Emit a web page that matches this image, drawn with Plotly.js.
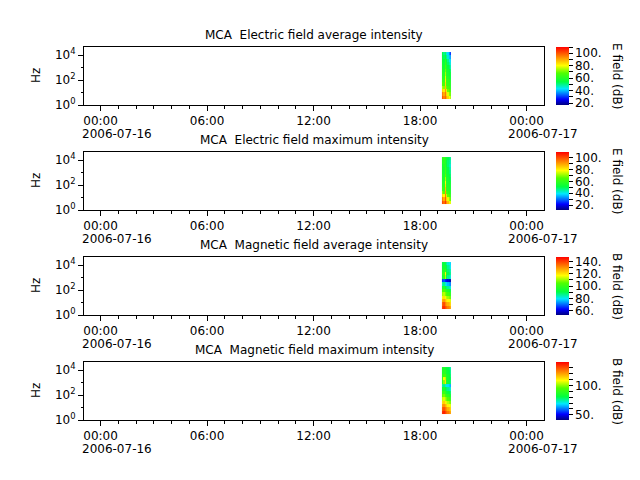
<!DOCTYPE html>
<html>
<head>
<meta charset="utf-8">
<script src="https://cdn.plot.ly/plotly-3.0.1.min.js"></script>
<style>
  html, body { margin: 0; padding: 0; background: #fff; }
  #chart { width: 640px; height: 480px; }
</style>
</head>
<body>
<div id="chart"></div>
<script>
// Time bin edges of the pass (UT)
const timeEdges = [
  '2006-07-16 19:14:00', '2006-07-16 19:18:30', '2006-07-16 19:23:00',
  '2006-07-16 19:27:30', '2006-07-16 19:32:00', '2006-07-16 19:36:30',
  '2006-07-16 19:41:00', '2006-07-16 19:45:00'
];
// Frequency bin edges (Hz)
const freqEdges = [3.0, 5.6, 10.3, 19.2, 35.6, 66, 123, 228, 423, 784, 1455, 2700, 5015, 9300, 17280];

// Spectral intensities (dB), rows = frequency bins (low -> high), columns = time bins
const eAvg = [
  [100, 95, 98, 90, 85, 80, 75],
  [95, 90, 96, 85, 78, 72, 70],
  [85, 82, 92, 78, 70, 68, 65],
  [75, 72, 88, 70, 66, 64, 62],
  [68, 66, 85, 66, 63, 62, 60],
  [64, 63, 82, 64, 62, 60, 58],
  [62, 61, 78, 62, 60, 58, 56],
  [60, 60, 74, 61, 58, 56, 55],
  [60, 58, 70, 60, 57, 55, 52],
  [58, 57, 66, 58, 55, 52, 48],
  [57, 56, 62, 57, 52, 48, 45],
  [56, 55, 60, 55, 50, 44, 42],
  [55, 52, 56, 50, 46, 40, 38],
  [54, 50, 52, 46, 42, 36, 30]
];
const eMax = [
  [100, 96, 102, 92, 86, 80, 76],
  [94, 88, 98, 84, 76, 70, 66],
  [82, 78, 94, 74, 66, 62, 60],
  [70, 66, 90, 66, 60, 58, 56],
  [62, 60, 86, 60, 57, 56, 55],
  [58, 58, 82, 58, 56, 55, 54],
  [57, 57, 78, 57, 55, 54, 52],
  [56, 56, 72, 56, 54, 52, 50],
  [56, 55, 66, 55, 53, 50, 48],
  [55, 55, 62, 54, 52, 48, 46],
  [55, 54, 60, 54, 50, 46, 44],
  [54, 56, 58, 52, 48, 44, 42],
  [56, 58, 56, 52, 48, 46, 44],
  [58, 60, 56, 54, 50, 48, 46]
];
const bAvg = [
  [140, 142, 138, 135, 132, 130, 128],
  [135, 138, 132, 128, 126, 124, 122],
  [126, 128, 124, 120, 118, 116, 114],
  [118, 120, 116, 112, 110, 108, 106],
  [110, 112, 108, 105, 102, 100, 98],
  [102, 104, 100, 97, 95, 93, 90],
  [94, 96, 92, 88, 86, 84, 82],
  [84, 86, 82, 78, 76, 74, 72],
  [66, 68, 64, 62, 60, 58, 56],
  [92, 98, 112, 90, 86, 84, 82],
  [96, 100, 118, 94, 90, 88, 86],
  [94, 96, 100, 92, 88, 86, 84],
  [92, 94, 94, 90, 86, 84, 80],
  [90, 92, 90, 86, 82, 80, 78]
];
const bMax = [
  [134, 136, 132, 128, 125, 122, 120],
  [128, 130, 126, 122, 118, 116, 114],
  [120, 122, 118, 114, 110, 108, 106],
  [112, 114, 110, 106, 103, 100, 98],
  [104, 106, 102, 98, 95, 92, 90],
  [96, 98, 94, 90, 88, 86, 84],
  [90, 91, 88, 84, 82, 80, 78],
  [84, 85, 82, 78, 76, 74, 72],
  [74, 76, 72, 70, 68, 66, 64],
  [88, 100, 112, 86, 82, 80, 78],
  [90, 108, 104, 88, 84, 82, 80],
  [88, 92, 94, 86, 84, 82, 78],
  [86, 88, 88, 84, 82, 80, 76],
  [85, 86, 84, 82, 80, 78, 74]
];

const panelTitles = [
  'MCA\u00a0 Electric field average intensity',
  'MCA\u00a0 Electric field maximum intensity',
  'MCA\u00a0 Magnetic field average intensity',
  'MCA\u00a0 Magnetic field maximum intensity'
];
const cbarTitles = ['E field (dB)', 'E field (dB)', 'B field (dB)', 'B field (dB)'];
const cbarRanges = [[17, 110], [12, 109], [53, 147], [41, 140]];
const cbarTickVals = [
  [20, 30, 40, 50, 60, 70, 80, 90, 100, 110],
  [20, 30, 40, 50, 60, 70, 80, 90, 100],
  [60, 70, 80, 90, 100, 110, 120, 130, 140],
  [50, 60, 70, 80, 90, 100, 110, 120, 130]
];
const cbarLabelled = [
  [20, 40, 60, 80, 100],
  [20, 40, 60, 80, 100],
  [60, 80, 100, 120, 140],
  [50, 100]
];
const dayLabels = ['2006-07-16', '2006-07-17'];
const dayTicks = ['2006-07-16 00:00', '2006-07-17 00:00'];
const freqTickVals = [1, 100, 10000];
const freqTickText = ['10<sup>0</sup>', '10<sup>2</sup>', '10<sup>4</sup>'];

const spectra = [eAvg, eMax, bAvg, bMax];

// Rainbow palette, dark blue -> red
const palette = [
  [0.00, '#000080'], [0.10, '#0000ff'], [0.28, '#00e8ff'], [0.40, '#00ff40'],
  [0.55, '#50ff00'], [0.68, '#ffff00'], [0.82, '#ff9000'], [1.00, '#ff0000']
];

const W = 640, H = 480;
const axLeft = 84, axRight = 544, axH = 58;
const axTops = [47, 152, 257, 362];
const px = v => v / W;
const py = v => 1 - v / H;

const data = [];
const layout = {
  width: W, height: H,
  margin: {l: 0, r: 0, t: 0, b: 0},
  paper_bgcolor: '#fff', plot_bgcolor: '#fff',
  showlegend: false,
  font: {family: 'DejaVu Sans', size: 12, color: '#000'},
  annotations: []
};

spectra.forEach((z, i) => {
  const sfx = i === 0 ? '' : String(i + 1);
  const top = axTops[i], bottom = top + axH, mid = top + axH / 2;

  data.push({
    type: 'heatmap',
    x: timeEdges, y: freqEdges, z: z,
    xaxis: 'x' + sfx, yaxis: 'y' + sfx,
    colorscale: palette,
    zmin: cbarRanges[i][0], zmax: cbarRanges[i][1],
    zsmooth: false, hoverinfo: 'skip',
    colorbar: {
      x: px(556), xanchor: 'left', xpad: 0,
      y: py(mid), yanchor: 'middle', ypad: 0,
      len: axH, lenmode: 'pixels',
      thickness: 13, thicknessmode: 'pixels',
      outlinewidth: 0,
      tickmode: 'array',
      tickvals: cbarTickVals[i],
      ticktext: cbarTickVals[i].map(v => cbarLabelled[i].includes(v) ? v + '.' : ''),
      ticks: 'outside', ticklen: 4, tickcolor: '#000',
      tickfont: {size: 12, color: '#000'}
    }
  });

  layout['xaxis' + sfx] = {
    domain: [px(axLeft), px(axRight)],
    anchor: 'y' + sfx,
    type: 'date',
    range: ['2006-07-15 23:04', '2006-07-17 00:59'],
    tickmode: 'linear', tick0: '2006-07-16 00:00', dtick: 6 * 3600000,
    tickformat: '%H:%M',
    ticks: 'outside', ticklen: 5, tickcolor: '#000',
    minor: {ticks: 'outside', dtick: 3600000, tick0: '2006-07-16 00:00', ticklen: 2.5, tickcolor: '#000'},
    showline: true, mirror: true, linecolor: '#000', linewidth: 1,
    showgrid: false, zeroline: false,
    tickfont: {size: 12, color: '#000'}
  };
  layout['yaxis' + sfx] = {
    domain: [py(bottom), py(top)],
    anchor: 'x' + sfx,
    type: 'log',
    range: [0, 4.64],
    tickmode: 'array', tickvals: freqTickVals, ticktext: freqTickText,
    ticks: 'outside', ticklen: 5, tickcolor: '#000',
    minor: {ticks: 'outside', dtick: 1, ticklen: 2.5, tickcolor: '#000'},
    showline: true, mirror: true, linecolor: '#000', linewidth: 1,
    showgrid: false, zeroline: false,
    tickfont: {size: 12, color: '#000'}
  };

  // panel title
  layout.annotations.push({
    xref: 'paper', yref: 'paper', x: px((axLeft + axRight) / 2), y: py(top - 12),
    xanchor: 'center', yanchor: 'middle', showarrow: false, borderpad: 0,
    text: panelTitles[i], font: {size: 12}
  });
  // frequency axis label
  layout.annotations.push({
    xref: 'paper', yref: 'paper', x: px(36), y: py(mid),
    xanchor: 'center', yanchor: 'middle', showarrow: false, textangle: -90,
    text: 'Hz', font: {size: 12}
  });
  // colour bar label
  layout.annotations.push({
    xref: 'paper', yref: 'paper', x: px(617), y: py(mid),
    xanchor: 'center', yanchor: 'middle', showarrow: false, textangle: 90,
    text: cbarTitles[i], font: {size: 12}
  });
  // day labels under the midnight ticks
  dayTicks.forEach((t, k) => {
    layout.annotations.push({
      xref: 'x' + sfx, yref: 'paper', x: t, xshift: -20, y: py(bottom + 29),
      xanchor: 'left', yanchor: 'middle', showarrow: false, borderpad: 0,
      text: dayLabels[k], font: {size: 12}
    });
  });
});

Plotly.newPlot('chart', data, layout, {staticPlot: true, displayModeBar: false});
</script>
</body>
</html>
